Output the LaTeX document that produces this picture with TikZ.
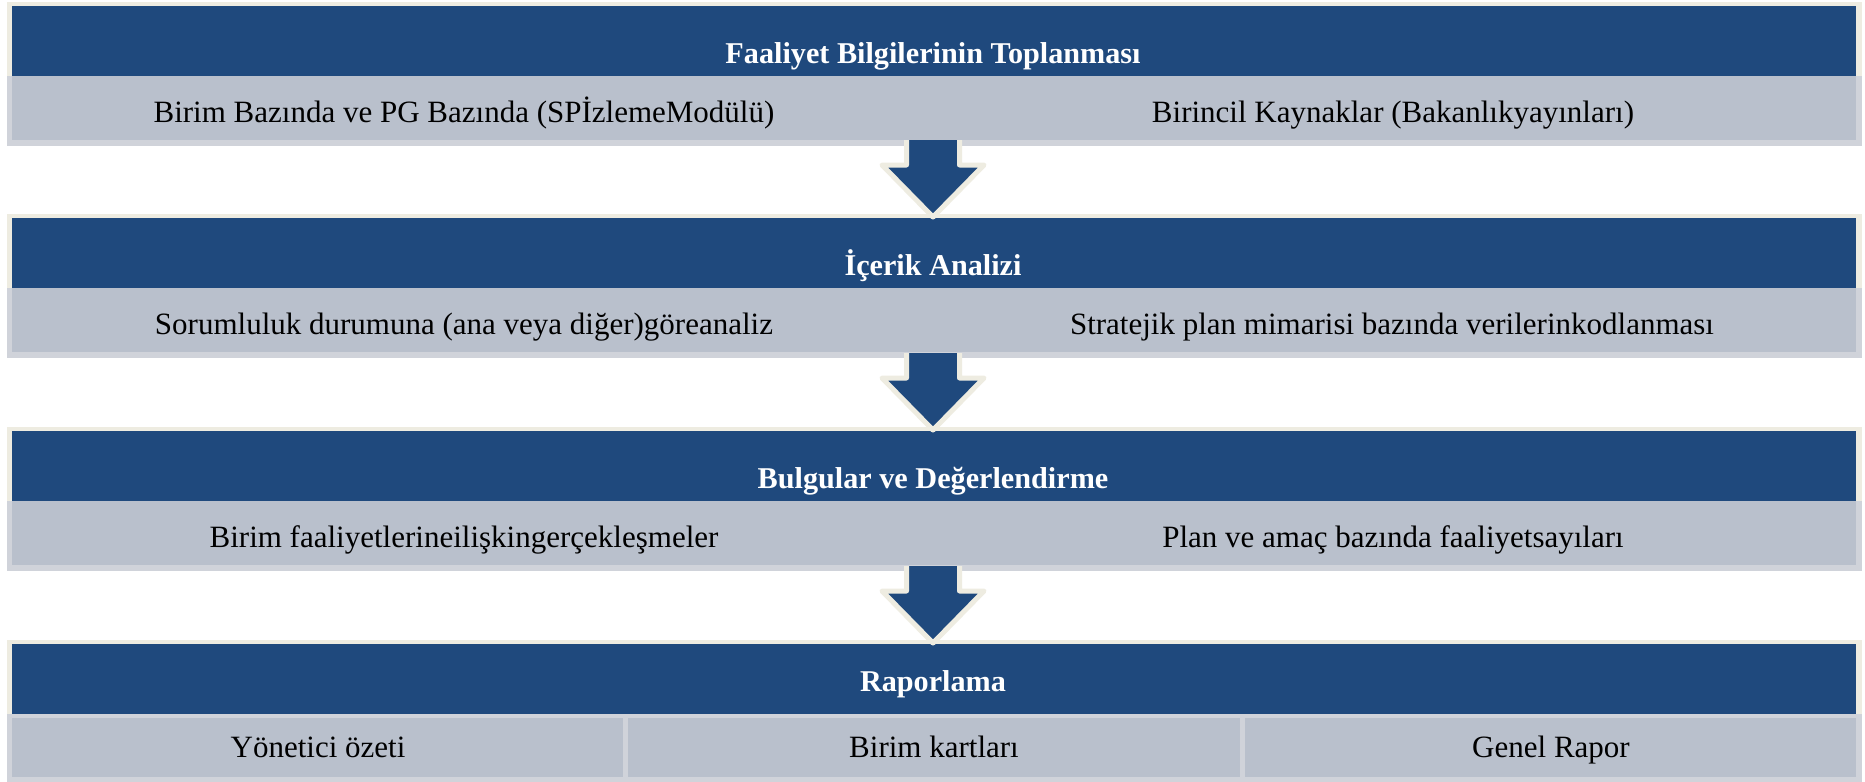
\documentclass[tikz,border=0pt]{standalone}
\usepackage{fontspec}
\setmainfont{Liberation Serif}
\definecolor{hblue}{HTML}{1F497D}
\definecolor{cream}{HTML}{EEECE1}
\definecolor{cellgrey}{HTML}{B9C0CC}
\definecolor{edgegrey}{HTML}{D0D3DA}
\tikzset{
  headtext/.style={text=white, font=\fontsize{15.1}{18}\selectfont\bfseries, anchor=base, inner sep=0pt},
  bodytext/.style={text=black, font=\fontsize{15.5}{18}\selectfont, anchor=base, inner sep=0pt},
  flowarrow/.style={fill=hblue, draw=cream, line width=2.5pt, line join=round},
}
\newcommand\headband[1]{%
  \fill[cream] (7,#1) rectangle (1862,#1+74);
  \fill[hblue] (12,#1+4) rectangle (1856,#1+74);
}
\newcommand\greyband[1]{%
  \fill[edgegrey] (7,#1+74) rectangle (1862,#1+144);
  \fill[cellgrey] (12,#1+74) rectangle (1856,#1+138);
}
\newcommand\flowdown[1]{%
  \begin{scope}[shift={(#1)}]
    \fill[hblue] (-26.5,0) -- (-26.5,25) -- (-51,25) -- (0,77) -- (51,25) -- (26.5,25) -- (26.5,0) -- cycle;
    \draw[flowarrow, fill=none] (-26.5,0) -- (-26.5,25) -- (-51,25) -- (0,77) -- (51,25) -- (26.5,25) -- (26.5,0);
  \end{scope}
}
\begin{document}
\begin{tikzpicture}[x=0.5pt,y=-0.5pt]
\useasboundingbox (0,0) rectangle (1865,782);
\fill[white] (0,0) rectangle (1865,782);

% block 1
\headband{2}
\greyband{2}
\node[headtext] (h1) at (933,63) {Faaliyet Bilgilerinin Toplanması};
\node[bodytext] (b1l) at (464,122) {Birim Bazında ve PG Bazında (SPİzlemeModülü)};
\node[bodytext] (b1r) at (1393,122) {Birincil Kaynaklar (Bakanlıkyayınları)};

% block 2
\headband{214}
\greyband{214}
\node[headtext] (h2) at (933,275) {İçerik Analizi};
\node[bodytext] (b2l) at (464,334) {Sorumluluk durumuna (ana veya diğer)göreanaliz};
\node[bodytext] (b2r) at (1392,334) {Stratejik plan mimarisi bazında verilerinkodlanması};

% block 3
\headband{427}
\greyband{427}
\node[headtext] (h3) at (933,488) {Bulgular ve Değerlendirme};
\node[bodytext] (b3l) at (464,547) {Birim faaliyetlerineilişkingerçekleşmeler};
\node[bodytext] (b3r) at (1393,547) {Plan ve amaç bazında faaliyetsayıları};

% block 4
\headband{640}
\fill[edgegrey] (7,714) rectangle (1862,782);
\fill[cellgrey] (12,718) rectangle (623,777);
\fill[cellgrey] (628,718) rectangle (1240,777);
\fill[cellgrey] (1245,718) rectangle (1856,777);
\node[headtext] (h4) at (933,691) {Raporlama};
\node[bodytext] (c1) at (318,757) {Yönetici özeti};
\node[bodytext] (c2) at (934,757) {Birim kartları};
\node[bodytext] (c3) at (1551,757) {Genel Rapor};

% arrows
\coordinate (a1) at (933,140);
\coordinate (a2) at (933,353);
\coordinate (a3) at (933,566);
\flowdown{a1}
\flowdown{a2}
\flowdown{a3}
\end{tikzpicture}
\end{document}
